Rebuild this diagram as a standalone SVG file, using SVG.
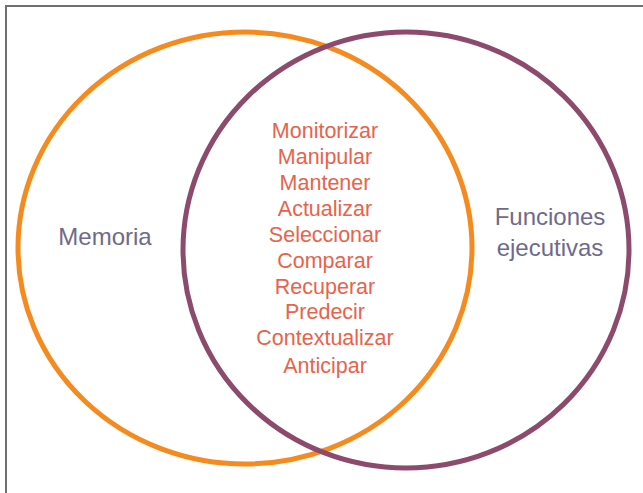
<svg xmlns="http://www.w3.org/2000/svg" width="643" height="493" viewBox="0 0 643 493">
<style>
.frame{stroke:#707070;stroke-width:2;fill:none}
.c{fill:none;stroke-width:5}
.mid{font-family:"Liberation Sans",Arial,sans-serif;font-size:21.5px;fill:#E8634B;text-anchor:middle}
.lab{font-family:"Liberation Sans",Arial,sans-serif;font-size:24px;fill:#6F6A8C;text-anchor:middle}
</style>
<rect width="643" height="493" fill="#fff"/>
<path class="frame" d="M6,493 V6 H643"/>
<g id="memoria">
<ellipse class="c" stroke="#F58A1F" cx="245" cy="248" rx="227" ry="216"/>
<text class="lab" x="105" y="245">Memoria</text>
</g>
<g id="funciones">
<ellipse class="c" stroke="#8C4A6C" cx="406" cy="250" rx="223" ry="218"/>
<text class="lab" x="550" y="225">Funciones</text>
<text class="lab" x="550" y="256">ejecutivas</text>
</g>
<g id="interseccion">
<text class="mid" x="325" y="138">Monitorizar</text>
<text class="mid" x="325" y="164">Manipular</text>
<text class="mid" x="325" y="190">Mantener</text>
<text class="mid" x="325" y="216">Actualizar</text>
<text class="mid" x="325" y="242">Seleccionar</text>
<text class="mid" x="325" y="268">Comparar</text>
<text class="mid" x="325" y="294">Recuperar</text>
<text class="mid" x="325" y="319">Predecir</text>
<text class="mid" x="325" y="345">Contextualizar</text>
<text class="mid" x="325" y="373">Anticipar</text>
</g>
<g id="connectors"></g>
</svg>
